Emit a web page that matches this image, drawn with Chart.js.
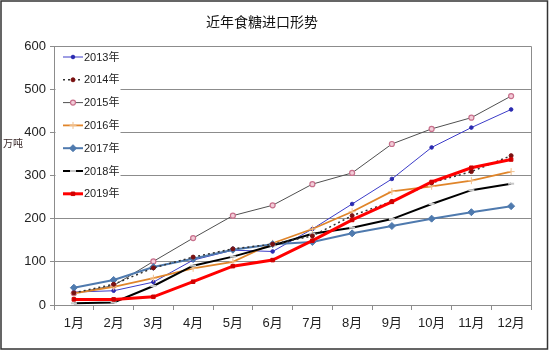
<!DOCTYPE html>
<html><head><meta charset="utf-8">
<script src="https://cdn.jsdelivr.net/npm/chart.js@4/dist/chart.umd.min.js"></script>
<style>html,body{margin:0;padding:0;background:#fff}#wrap{width:550px;height:351px;position:relative}</style>
</head><body><div id="wrap"><canvas id="c" width="550" height="351"></canvas></div>
<script>
const months = ['1月','2月','3月','4月','5月','6月','7月','8月','9月','10月','11月','12月'];
const yTicks = [0,100,200,300,400,500,600];
const years = ['2013年','2014年','2015年','2016年','2017年','2018年','2019年'];
const s2013 = [30, 33, 53, 104, 127, 124, 176, 234, 292, 365, 411, 453];
const s2014 = [28, 48, 86, 111, 130, 141, 160, 207, 240, 283, 309, 346];
const s2015 = [27, 45, 101, 155, 207, 231, 280, 306, 373, 408, 434, 484];
const s2016 = [27, 42, 62, 85, 100, 143, 176, 216, 263, 275, 288, 309];
const s2017 = [40, 58, 88, 107, 128, 141, 146, 166, 183, 200, 215, 229];
const s2018 = [4, 6, 44, 91, 112, 138, 165, 179, 199, 234, 266, 281];
const s2019 = [13, 13, 19, 54, 90, 104, 149, 197, 239, 285, 318, 337];

const FONT = "'Liberation Sans Narrow', 'Liberation Sans', 'Noto Sans CJK SC', sans-serif";

const datasets = [
  {label: years[0], data: s2013, borderColor:'#3C3CC8', borderWidth:1, pointStyle:'circle', pointRadius:1.8, pointBackgroundColor:'#2A2AB0', pointBorderColor:'#2A2AB0', pointBorderWidth:1, order:6},
  {label: years[1], data: s2014, borderColor:'#333333', borderWidth:1.5, borderDash:[2,3], pointStyle:'circle', pointRadius:2, pointBackgroundColor:'#7A1010', pointBorderColor:'#7A1010', pointBorderWidth:1, order:1},
  {label: years[2], data: s2015, borderColor:'#505050', borderWidth:1, pointStyle:'circle', pointRadius:2.5, pointBackgroundColor:'#F2CCD8', pointBorderColor:'#C8708C', pointBorderWidth:1.2, order:5},
  {label: years[3], data: s2016, borderColor:'#E0852A', borderWidth:1.8, pointStyle:'cross', pointRadius:3.5, pointBackgroundColor:'#F2C08C', pointBorderColor:'#F2C08C', pointBorderWidth:1, order:4},
  {label: years[4], data: s2017, borderColor:'#4F7AAE', borderWidth:2, pointStyle:'rectRot', pointRadius:3.5, pointBackgroundColor:'#4F7AAE', pointBorderColor:'#4F7AAE', pointBorderWidth:1, order:3},
  {label: years[5], data: s2018, borderColor:'#000000', borderWidth:2, pointStyle:'line', pointRadius:3, pointBackgroundColor:'#C8C8C8', pointBorderColor:'#C8C8C8', pointBorderWidth:2, order:2},
  {label: years[6], data: s2019, borderColor:'#FF0000', borderWidth:3, pointStyle:'rect', pointRadius:2.5, pointBackgroundColor:'#D00000', pointBorderColor:'#D00000', pointBorderWidth:1, order:0}
];
datasets.forEach(d => { d.tension = 0; d.fill = false; d.pointHoverRadius = d.pointRadius; });

function drawMarker(ctx, ds, x, y){
  ctx.save();
  ctx.fillStyle = ds.pointBackgroundColor;
  ctx.strokeStyle = ds.pointBorderColor;
  ctx.lineWidth = ds.pointBorderWidth;
  ctx.setLineDash([]);
  if (Chart.helpers && Chart.helpers.drawPoint) {
    Chart.helpers.drawPoint(ctx, {pointStyle: ds.pointStyle, radius: ds.pointRadius, rotation: 0, borderWidth: ds.pointBorderWidth}, x, y);
  }
  ctx.restore();
}

const deco = {
  id: 'deco',
  beforeDatasetsDraw(chart){
    const {ctx, chartArea: a} = chart;
    ctx.save();
    ctx.strokeStyle = '#8c8c8c'; ctx.lineWidth = 1;
    ctx.beginPath();
    ctx.moveTo(a.left, a.top + 0.5); ctx.lineTo(a.right + 0.5, a.top + 0.5);
    ctx.lineTo(a.right + 0.5, a.bottom);
    ctx.stroke();
    ctx.restore();
  },
  afterDraw(chart){
    const ctx = chart.ctx;
    ctx.save();
    // legend background (hides gridlines behind the legend)
    ctx.fillStyle = '#ffffff';
    ctx.fillRect(55.5, 48, 65, 156);
    // legend
    const y0 = 57, step = 22.8;
    datasets.forEach((ds, i) => {
      const y = y0 + i * step;
      ctx.save();
      ctx.strokeStyle = ds.borderColor;
      ctx.lineWidth = ds.borderWidth;
      ctx.setLineDash(ds.borderDash || []);
      ctx.beginPath(); ctx.moveTo(63, y); ctx.lineTo(83, y); ctx.stroke();
      ctx.restore();
      drawMarker(ctx, ds, 73, y);
      ctx.fillStyle = '#222';
      ctx.font = "11px " + FONT;
      ctx.textAlign = 'left'; ctx.textBaseline = 'middle';
      ctx.fillText(ds.label, 84, y + 0.5);
    });
    // title
    ctx.fillStyle = '#111';
    ctx.font = "14px 'Noto Sans CJK SC', sans-serif";
    ctx.textAlign = 'center'; ctx.textBaseline = 'middle';
    ctx.fillText('近年食糖进口形势', 262, 22);
    // y axis title
    ctx.fillStyle = '#3a2a2a';
    ctx.font = "10px 'Noto Sans CJK SC', sans-serif";
    ctx.textAlign = 'center';
    ctx.fillText('万吨', 13, 143);
    // outer border
    ctx.strokeStyle = '#333'; ctx.lineWidth = 1.5;
    ctx.strokeRect(1, 1, 546.5, 348);
    ctx.restore();
  }
};

new Chart(document.getElementById('c'), {
  type: 'line',
  data: {labels: months, datasets: datasets},
  plugins: [deco],
  options: {
    responsive: false,
    devicePixelRatio: 1,
    animation: false,
    layout: {padding: {top: 46, left: 0, right: 19, bottom: 0}},
    plugins: {legend: {display: false}, title: {display: false}, tooltip: {enabled: false}},
    scales: {
      x: {
        offset: true,
        afterFit(s){ s.height = 46; },
        grid: {offset: true, drawOnChartArea: false, drawTicks: true, tickLength: 5, color: '#8c8c8c'},
        border: {color: '#8c8c8c'},
        ticks: {padding: 6, color: '#222', font: {family: FONT, size: 13}, maxRotation: 0, autoSkip: false}
      },
      y: {
        min: 0, max: 600,
        afterFit(s){ s.width = 54; },
        afterBuildTicks(s){ s.ticks = yTicks.map(v => ({value: v})); },
        grid: {color: '#8c8c8c', tickLength: 4, drawTicks: true},
        border: {color: '#8c8c8c'},
        ticks: {padding: 4, color: '#222', font: {family: FONT, size: 13}}
      }
    }
  }
});
</script>
</body></html>
